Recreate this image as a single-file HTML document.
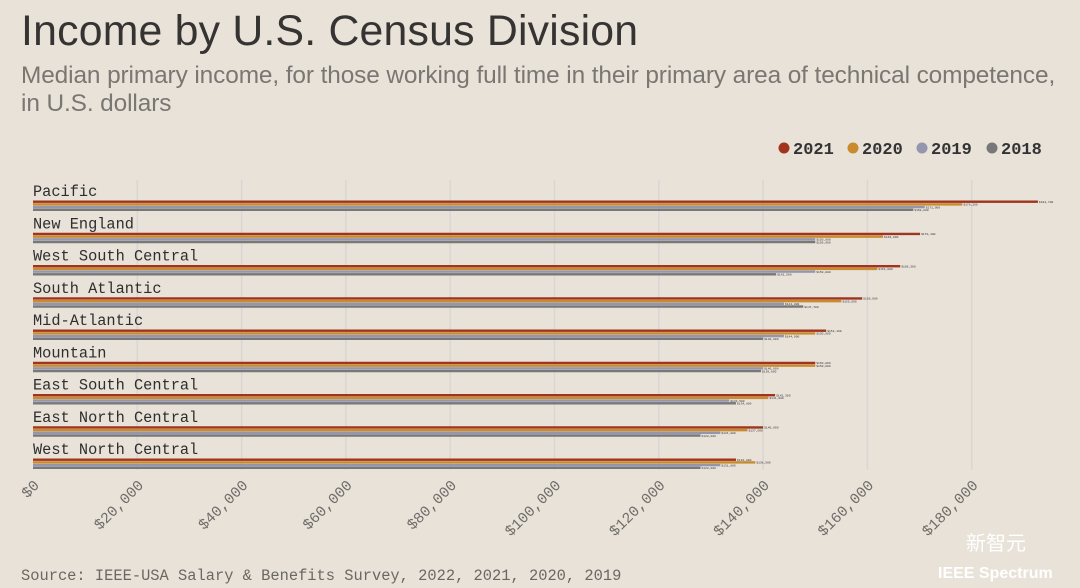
<!DOCTYPE html>
<html><head><meta charset="utf-8"><style>
body{margin:0;background:#e8e2d9;width:1080px;height:588px;overflow:hidden;font-family:"Liberation Sans",sans-serif}
.t{position:absolute;left:21px;top:7px;font-size:42.8px;color:#363432;letter-spacing:0.2px}
.s{position:absolute;left:21px;top:62px;font-size:24.4px;color:#7a7672;line-height:28px;width:1059px;letter-spacing:-0.1px}
</style></head><body>
<div class="t">Income by U.S. Census Division</div>
<div class="s">Median primary income, for those working full time in their primary area of technical competence, in U.S. dollars</div>
<svg id="c" width="1080" height="588" style="position:absolute;left:0;top:0"></svg>
<script>
const categories=["Pacific","New England","West South Central","South Atlantic","Mid-Atlantic","Mountain","East South Central","East North Central","West North Central"];
const years=["2021","2020","2019","2018"];
const colors=["#a0341c","#c98b2e","#9496ad","#787878"];
const v2021=[192700,170100,166300,159000,152100,150000,142300,140000,134800];
const v2020=[178200,163000,161900,155000,150000,150000,141000,137000,138500];
const v2019=[171000,150000,150000,144000,144000,140000,133500,131800,131800];
const v2018=[168800,150000,142500,147700,140000,139600,134800,128000,128000];
const series=[v2021,v2020,v2019,v2018];
const ticks=[0,20000,40000,60000,80000,100000,120000,140000,160000,180000];
const tickLabels=["$0","$20,000","$40,000","$60,000","$80,000","$100,000","$120,000","$140,000","$160,000","$180,000"];
const NS="http://www.w3.org/2000/svg",svg=document.getElementById('c');
const x=v=>33+v*(104.3/20000);
const yLabel=i=>191+i*32.25;
function mk(t,a){const e=document.createElementNS(NS,t);for(const k in a)e.setAttribute(k,a[k]);svg.appendChild(e);return e;}
ticks.forEach((t,i)=>{
 if(i>0){const g=mk('line',{x1:x(t),x2:x(t),y1:180,y2:470,stroke:'#d9d6d3','stroke-width':1.5});
 
 }
 const tx=mk('text',{x:0,y:0,'font-family':'Liberation Mono,monospace','font-size':15,fill:'#6f6c69','text-anchor':'end',transform:`translate(${x(t)+7},${486}) rotate(-45)`});
 tx.textContent=tickLabels[i];
 
 
});
categories.forEach((c,i)=>{
 const y0=yLabel(i);
 const l=mk('text',{x:33,y:y0+5,'font-family':'Liberation Mono,monospace','font-size':15.3,fill:'#2e2e2e'});
 l.textContent=c;
 
 
 series.forEach((s,j)=>{
  const by=y0+9.5+j*2.7;
  const r=mk('rect',{x:33,y:by,width:x(s[i])-33,height:2.4,fill:colors[j]});
  
  
  const vt=mk('text',{x:x(s[i])+1,y:by+2.4,'font-size':3,fill:'#333','font-family':'Liberation Mono,monospace'});
  vt.textContent='$'+s[i].toLocaleString('en-US');
  
  
 });
});
const lx=[784,853,922,992];
years.forEach((yr,j)=>{
 const d=mk('circle',{cx:lx[j],cy:148,r:5.5,fill:colors[j]});
 
 
 const t=mk('text',{x:lx[j]+9,y:154,'font-family':'Liberation Mono,monospace','font-size':17,'font-weight':'bold',fill:'#333'});
 t.textContent=yr;
 
 
});
const src=mk('text',{x:21,y:580,'font-family':'Liberation Mono,monospace','font-size':15.4,fill:'#6a6764'});
src.textContent='Source: IEEE-USA Salary & Benefits Survey, 2022, 2021, 2020, 2019';


const wm=mk('text',{x:966,y:550,'font-family':'Liberation Sans,Noto Sans CJK SC,sans-serif','font-size':20,fill:'#ffffff'});
wm.textContent='新智元';


const ie=mk('text',{x:938,y:578,'font-family':'Liberation Sans,sans-serif','font-size':16,'font-weight':'bold',fill:'#ffffff'});
ie.textContent='IEEE Spectrum';


</script>
</body></html>
